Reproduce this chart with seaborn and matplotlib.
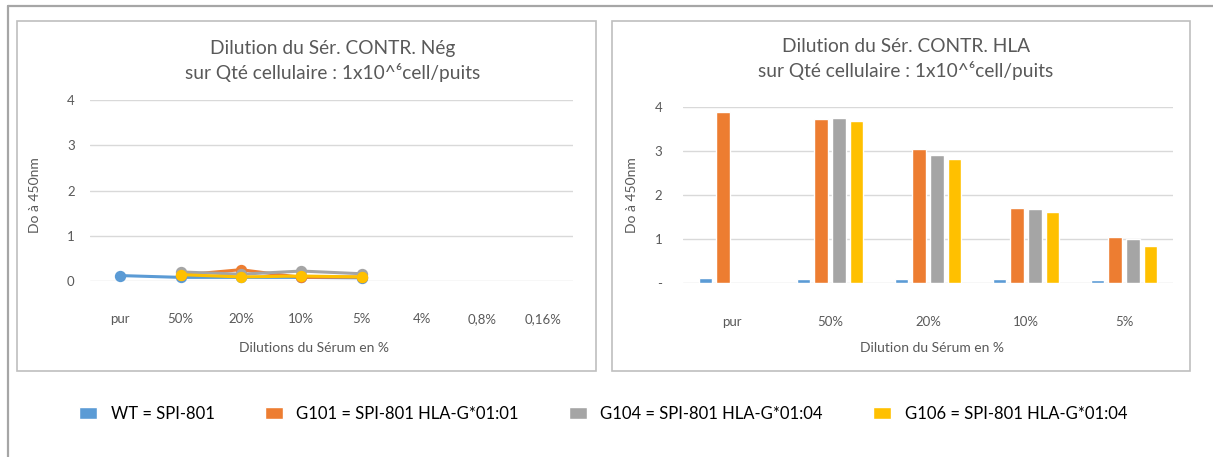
import numpy as np
import matplotlib.pyplot as plt
from matplotlib.patches import Rectangle
import seaborn as sns
import pandas as pd

# categories
dil_neg = ["pur", "50%", "20%", "10%", "5%", "4%", "0,8%", "0,16%"]
dil_hla = ["pur", "50%", "20%", "10%", "5%"]
series = ["WT = SPI-801", "G101 = SPI-801 HLA-G*01:01",
          "G104 = SPI-801 HLA-G*01:04", "G106 = SPI-801 HLA-G*01:04"]
colors = ["#5B9BD5", "#ED7D31", "#A5A5A5", "#FFC000"]

# left chart: line values (Do a 450nm), NaN = no measure
neg_wt = [0.12, 0.08, 0.08, 0.08, 0.07, np.nan, np.nan, np.nan]
neg_g101 = [np.nan, 0.13, 0.25, 0.08, 0.09, np.nan, np.nan, np.nan]
neg_g104 = [np.nan, 0.20, 0.15, 0.22, 0.16, np.nan, np.nan, np.nan]
neg_g106 = [np.nan, 0.14, 0.09, 0.11, 0.09, np.nan, np.nan, np.nan]

# right chart: bar values
hla_wt = [0.12, 0.09, 0.10, 0.08, 0.07]
hla_g101 = [3.89, 3.73, 3.04, 1.70, 1.05]
hla_g104 = [np.nan, 3.75, 2.91, 1.69, 1.00]
hla_g106 = [np.nan, 3.68, 2.81, 1.61, 0.84]

title_neg = "Dilution du Sér. CONTR. Nég\nsur Qté cellulaire : 1x10^\u2076cell/puits"
title_hla = "Dilution du Sér. CONTR. HLA\nsur Qté cellulaire : 1x10^\u2076cell/puits"

sns.set_style("white")
plt.rcParams['font.family'] = ['Lato', 'DejaVu Sans']
txt = "#595959"
grid = "#D9D9D9"

W, H = 1213, 457
fig = plt.figure(figsize=(W / 100, H / 100), dpi=100)


def box(x0, y0, x1, y1):
    # pixel coords (top-left origin) -> figure fraction
    return [x0 / W, 1 - y1 / H, (x1 - x0) / W, (y1 - y0) / H]


# frames
fig.add_artist(plt.Line2D([8 / W, 8 / W], [0, 1 - 5.5 / H], color="#A6A6A6", lw=1.6))
fig.add_artist(plt.Line2D([8 / W, 1], [1 - 5.5 / H, 1 - 5.5 / H], color="#A6A6A6", lw=1.6))
for b in [box(16.5, 20.5, 595.5, 371), box(612, 20.5, 1190, 371)]:
    fig.add_artist(Rectangle((b[0], b[1]), b[2], b[3], transform=fig.transFigure,
                             fill=False, ec="#BFBFBF", lw=1.2))

neg = pd.DataFrame({"dil": dil_neg * 4,
                    "serie": np.repeat(series, len(dil_neg)),
                    "do": neg_wt + neg_g101 + neg_g104 + neg_g106})
hla = pd.DataFrame({"dil": dil_hla * 4,
                    "serie": np.repeat(series, len(dil_hla)),
                    "do": hla_wt + hla_g101 + hla_g104 + hla_g106}).dropna()

# left line chart
ax1 = fig.add_axes(box(90, 100, 573, 281))
sns.pointplot(data=neg, x="dil", y="do", hue="serie", order=dil_neg, hue_order=series,
              palette=colors, errorbar=None, markers="o", markersize=6.5, linewidth=2.2,
              legend=False, ax=ax1)
for ln in ax1.lines:
    ln.set_clip_on(False)
ax1.set_ylim(0, 4)
ax1.set_xlim(-0.5, len(dil_neg) - 0.5)
ax1.set_yticks([0, 1, 2, 3, 4])
ax1.set_xlabel("Dilutions du Sérum en %", color=txt, fontsize=10)
ax1.set_ylabel("Do à 450nm", color=txt, fontsize=10)
ax1.xaxis.set_label_coords(0.464, -0.335)
ax1.yaxis.set_label_coords(-0.101, 0.475)
ax1.tick_params(axis="x", length=0, pad=23, labelsize=9.5, labelcolor=txt)
ax1.tick_params(axis="y", length=0, pad=11, labelsize=9.5, labelcolor=txt)
ax1.grid(axis="y", color=grid, lw=1)
ax1.set_axisbelow(True)
sns.despine(ax=ax1, left=True, bottom=True)
fig.text(333 / W, 1 - 61 / H, title_neg, ha="center", va="center", fontsize=13.8,
         color=txt, linespacing=1.4)

# right bar chart
ax2 = fig.add_axes(box(683, 107, 1173, 283))
sns.barplot(data=hla, x="dil", y="do", hue="serie", order=dil_hla, hue_order=series,
            palette=colors, errorbar=None, width=0.72, gap=0.22, saturation=1,
            ax=ax2)
ax2.set_ylim(0, 4)
ax2.set_yticks([0, 1, 2, 3, 4], ["-", "1", "2", "3", "4"])
ax2.set_xlabel("Dilution du Sérum en %", color=txt, fontsize=10)
ax2.set_ylabel("Do à 450nm", color=txt, fontsize=10)
ax2.xaxis.set_label_coords(0.508, -0.335)
ax2.yaxis.set_label_coords(-0.092, 0.5)
ax2.tick_params(axis="x", length=0, pad=24, labelsize=9.5, labelcolor=txt)
ax2.tick_params(axis="y", length=0, pad=15, labelsize=9.5, labelcolor=txt)
ax2.grid(axis="y", color=grid, lw=1)
ax2.set_axisbelow(True)
sns.despine(ax=ax2, left=True, bottom=True)
handles, labels = ax2.get_legend_handles_labels()
ax2.get_legend().remove()
fig.text(906 / W, 1 - 59 / H, title_hla, ha="center", va="center", fontsize=13.8,
         color=txt, linespacing=1.4)

fig.legend(handles, labels, loc="center left", bbox_to_anchor=(64 / W, 1 - 414 / H),
           ncol=4, frameon=False, fontsize=12, handlelength=1.1, handleheight=0.75,
           handletextpad=0.8, columnspacing=3.0, labelcolor="black")

fig.savefig("out.png", dpi=100)
